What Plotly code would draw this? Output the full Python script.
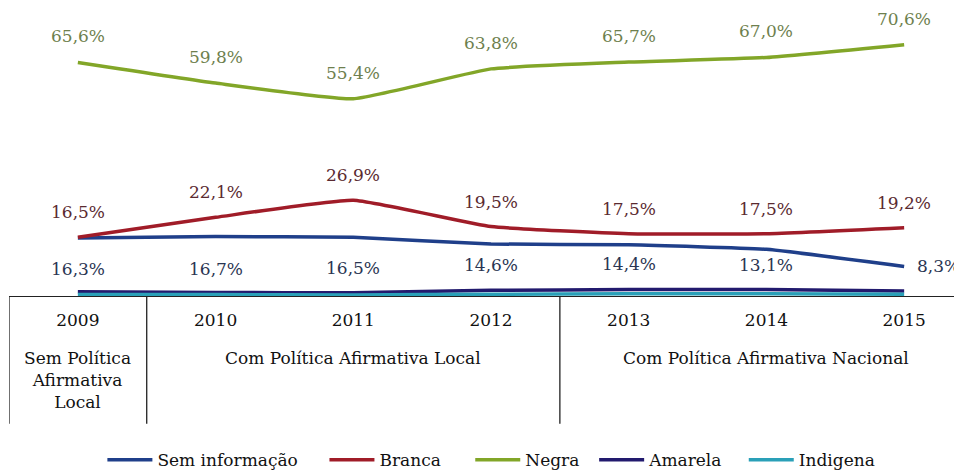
import plotly.graph_objects as go

anos = ["2009", "2010", "2011", "2012", "2013", "2014", "2015"]
sem_info = [16.3, 16.7, 16.5, 14.6, 14.4, 13.1, 8.3]
branca = [16.5, 22.1, 26.9, 19.5, 17.5, 17.5, 19.2]
negra = [65.6, 59.8, 55.4, 63.8, 65.7, 67.0, 70.6]
amarela = [1.2, 1.0, 0.9, 1.6, 1.8, 1.8, 1.4]
indigena = [0.4, 0.4, 0.3, 0.5, 0.6, 0.6, 0.5]

periodos = ["Sem Política<br>Afirmativa<br>Local", "Com Política Afirmativa Local", "Com Política Afirmativa Nacional"]
periodo_centro = [0, 2, 5]
divisorias = [-0.5, 0.5, 3.5]

FONT = "DejaVu Serif"
FS = 17
xs = list(range(len(anos)))

series = [
    ("Sem informação", sem_info, "#1f3f8a"),
    ("Branca", branca, "#a01c28"),
    ("Negra", negra, "#82a628"),
    ("Amarela", amarela, "#221a6e"),
    ("Indigena", indigena, "#2aa0b8"),
]
legend_ids = ["legend", "legend2", "legend3", "legend4", "legend5"]
legend_x = [0.098, 0.331, 0.484, 0.614, 0.771]

fig = go.Figure()
for (name, vals, col), lid in zip(series, legend_ids):
    fig.add_trace(go.Scatter(x=xs, y=vals, mode="lines", name=name, legend=lid,
                             line=dict(color=col, width=3.5, shape="spline", smoothing=0.4)))

def fmt(v):
    return f"{v:.1f}%".replace(".", ",")

ann = []
for i, v in enumerate(negra):
    ann.append(dict(x=i, y=v, text=fmt(v), showarrow=False, yshift=26,
                    font=dict(color="#6e7f4e", size=FS, family=FONT)))
for i, v in enumerate(branca):
    ann.append(dict(x=i, y=v, text=fmt(v), showarrow=False, yshift=25,
                    font=dict(color="#5a2a30", size=FS, family=FONT)))
sem_dy = [-31, -32, -31, -21, -19, -16, 0]
for i, v in enumerate(sem_info):
    if i == len(sem_info) - 1:
        ann.append(dict(x=i, y=v, text=fmt(v), showarrow=False, xshift=34,
                        font=dict(color="#2a3552", size=FS, family=FONT)))
    else:
        ann.append(dict(x=i, y=v, text=fmt(v), showarrow=False, yshift=sem_dy[i],
                        font=dict(color="#2a3552", size=FS, family=FONT)))

for c, t in zip(periodo_centro, periodos):
    ann.append(dict(x=c, y=-0.173, xref="x", yref="paper", text=t, showarrow=False,
                    yanchor="top", font=dict(color="#111111", size=FS, family=FONT)))

shapes = []
for d in divisorias:
    shapes.append(dict(type="line", xref="x", yref="paper", x0=d, x1=d, y0=0, y1=-0.444,
                       line=dict(color="#222222", width=1.3)))

legend_style = dict(orientation="h", xanchor="left", y=-0.57, yanchor="middle",
                    font=dict(size=FS, family=FONT, color="#111111"), itemwidth=45,
                    bgcolor="rgba(0,0,0,0)")

fig.update_layout(
    width=954, height=464,
    margin=dict(l=1, r=0, t=0, b=176, autoexpand=False),
    paper_bgcolor="white", plot_bgcolor="white",
    font=dict(family=FONT, size=FS, color="#111111"),
    xaxis=dict(range=[-0.5, 6.42], tickmode="array", tickvals=xs, ticktext=anos,
               showgrid=False, zeroline=False, showline=True, linecolor="#222222", linewidth=1.3,
               ticks="", ticklabelstandoff=8, tickfont=dict(size=FS, family=FONT, color="#111111")),
    yaxis=dict(range=[0, 80.9], visible=False, showgrid=False),
    showlegend=True,
    annotations=ann,
    shapes=shapes,
)
for lid, lx in zip(legend_ids, legend_x):
    fig.update_layout({lid: dict(x=lx, **legend_style)})

fig.write_html("out.html")
